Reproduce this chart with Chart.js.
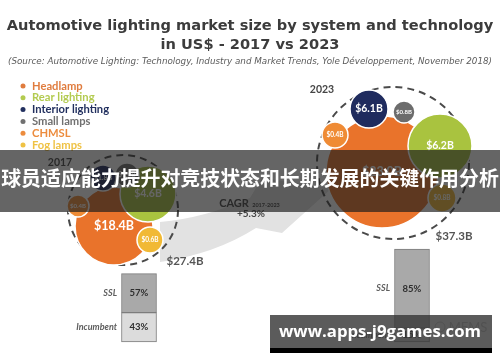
<!DOCTYPE html>
<html>
<head>
<meta charset="utf-8">
<script src="https://cdn.jsdelivr.net/npm/chart.js@4.4.1/dist/chart.umd.min.js"></script>
<style>
  html, body { margin: 0; padding: 0; background: #fff; }
  #wrap { position: relative; width: 500px; height: 362px; }
  canvas { display: block; }
</style>
</head>
<body>
<div id="wrap"><canvas id="myChart" width="500" height="362"></canvas></div>
<script>
// ---- data ----
const years = ["2017", "2023"];
const systems = ["Headlamp", "Rear lighting", "Interior lighting", "Small lamps", "CHMSL", "Fog lamps"];
const headlamp = [18.4, 23.0];
const rearLighting = [4.6, 6.2];
const interiorLighting = [1.8, 6.1];
const smallLamps = [1.6, 0.8];
const chmsl = [0.4, 0.4];
const fogLamps = [0.6, 0.8];
const marketTotal = [27.4, 37.3];
const technologies = ["SSL", "Incumbent"];
const sslShare = [57, 85];
const incumbentShare = [43, 15];
const cagrText = "+5.3%";

// ---- look & layout ----
const systemColors = ["#e9732b", "#a9c33f", "#1f2b5e", "#6c6c6c", "#ef8b35", "#f1b935"];
const legendColors = ["#e07c3e", "#b3cb50", "#22305f", "#707070", "#ec8c3e", "#efc244"];
// where each bubble sits in the infographic (chart units, x 0-500 / y 0-362) and its radius
const bubbleSpots = [
  [[114, 226, 39], [382, 172, 56]],
  [[148, 194, 28], [440, 146, 32]],
  [[103, 178, 13], [369, 109, 19]],
  [[127, 175, 12], [404, 112, 11]],
  [[78, 206, 11], [335, 135, 13]],
  [[150, 240, 13], [442, 198, 14]],
];
const clusterRings = [[123, 210, 55], [393, 163, 76]];

const seriesValues = [headlamp, rearLighting, interiorLighting, smallLamps, chmsl, fogLamps];
const sans = "Lato, 'DejaVu Sans', sans-serif";

// bar axes: 2017 -> px 121.5, 2023 -> px 394.5 ; 0 $B -> px 342, 37.3 $B -> px 249
const xbK = (394.5 - 121.5) / 6;
const xbMin = 2017 - 121.5 / xbK;
const ybK = 93 / 37.3;
const ybMin = -20 / ybK;

const bubbleSets = systems.map((name, i) => ({
  type: "bubble",
  label: name,
  data: years.map((y, j) => ({
    x: bubbleSpots[i][j][0],
    y: bubbleSpots[i][j][1],
    r: bubbleSpots[i][j][2],
    v: seriesValues[i][j],
  })),
  backgroundColor: systemColors[i],
  borderColor: "#ffffff",
  borderWidth: 1.5,
  hoverRadius: 0,
  order: i === 0 ? 10 : i === 1 ? 5 : 1,
}));

const shares = [sslShare, incumbentShare];
const barColors = ["#a9a9a9", "#dcdcdc"];
const barSets = [1, 0].map((t) => ({
  type: "bar",
  label: technologies[t],
  data: years.map((y, j) => ({ x: +y, y: (marketTotal[j] * shares[t][j]) / 100 })),
  xAxisID: "xb",
  yAxisID: "yb",
  stack: "tech",
  backgroundColor: barColors[t],
  borderColor: "#7d7d7d",
  borderWidth: 1,
  borderSkipped: false,
  barThickness: 35,
  order: 20,
}));

const fitText = (ctx, text, x, y, width, font) => {
  ctx.font = font.replace("SIZE", "20px");
  const size = (20 * width) / ctx.measureText(text).width;
  ctx.font = font.replace("SIZE", size + "px");
  ctx.fillText(text, x, y);
};

const decorPlugin = {
  id: "decor",
  beforeDatasetsDraw(chart) {
    const { ctx } = chart;
    const sx = chart.scales.x, sy = chart.scales.y;
    const P = (x, y) => [sx.getPixelForValue(x), sy.getPixelForValue(y)];
    ctx.save();
    // growth arrow
    ctx.fillStyle = "#e2e2e2";
    ctx.beginPath();
    ctx.moveTo(...P(160, 262));
    ctx.quadraticCurveTo(...P(215, 254), ...P(256, 228));
    ctx.lineTo(...P(282, 233));
    ctx.lineTo(...P(332, 188));
    ctx.lineTo(...P(262, 178));
    ctx.lineTo(...P(250, 198));
    ctx.quadraticCurveTo(...P(205, 218), ...P(160, 222));
    ctx.closePath();
    ctx.fill();
    // dashed rings around each year
    ctx.strokeStyle = "#4a4a4a";
    ctx.lineWidth = 2;
    ctx.setLineDash([7, 5]);
    clusterRings.forEach(([cx, cy, r]) => {
      ctx.beginPath();
      ctx.arc(...P(cx, cy), r, 0, Math.PI * 2);
      ctx.stroke();
    });
    ctx.restore();
  },
  afterDatasetsDraw(chart) {
    const { ctx } = chart;
    const sx = chart.scales.x, sy = chart.scales.y;
    const P = (x, y) => [sx.getPixelForValue(x), sy.getPixelForValue(y)];
    ctx.save();
    ctx.textAlign = "center";
    ctx.textBaseline = "middle";

    // bubble value labels
    chart.data.datasets.forEach((ds, di) => {
      if (ds.type !== "bubble") return;
      chart.getDatasetMeta(di).data.forEach((el, j) => {
        const v = ds.data[j].v;
        const base = v >= 10 ? 12.5 : v >= 1 ? 10.5 : 6.5;
        const size = Math.min(base, ds.data[j].r * 0.55);
        ctx.fillStyle = "#ffffff";
        ctx.font = `bold ${size}px ${sans}`;
        ctx.fillText(`$${v.toFixed(1)}B`, el.x, el.y);
      });
    });

    // bar share labels
    chart.data.datasets.forEach((ds, di) => {
      if (ds.type !== "bar") return;
      const t = technologies.indexOf(ds.label);
      chart.getDatasetMeta(di).data.forEach((el, j) => {
        const cy = (el.y + el.base) / 2;
        ctx.textAlign = "center";
        ctx.fillStyle = "#2e2e2e";
        ctx.font = `bold 9.5px ${sans}`;
        ctx.fillText(`${shares[t][j]}%`, el.x, cy);
        ctx.textAlign = "right";
        ctx.fillStyle = "#5e5e5e";
        ctx.font = `italic bold 9px ${sans}`;
        ctx.fillText(technologies[t], el.x - 22, cy);
      });
    });

    // titles
    ctx.textAlign = "center";
    ctx.fillStyle = "#3c3c3c";
    fitText(ctx, "Automotive lighting market size by system and technology", 250, 26, 487, "bold SIZE 'DejaVu Sans', sans-serif");
    ctx.fillText("in US$ - 2017 vs 2023", 250, 45);
    ctx.fillStyle = "#5a5a5a";
    fitText(ctx, "(Source: Automotive Lighting: Technology, Industry and Market Trends, Yole Développement, November 2018)", 250, 62, 484, "italic SIZE 'DejaVu Sans', sans-serif");

    // legend
    ctx.textAlign = "left";
    ctx.font = `bold 11.2px ${sans}`;
    systems.forEach((name, i) => {
      const y = 86 + i * 11.8;
      ctx.fillStyle = legendColors[i];
      ctx.beginPath();
      ctx.arc(23, y, 2.5, 0, Math.PI * 2);
      ctx.fill();
      ctx.fillText(name, 32, y);
    });

    // years and totals
    ctx.textAlign = "center";
    ctx.fillStyle = "#454545";
    ctx.font = `bold 10.5px ${sans}`;
    ctx.fillText(years[0], ...P(60, 163));
    ctx.fillText(years[1], ...P(322, 90));
    ctx.fillStyle = "#555555";
    ctx.font = `bold 11.5px ${sans}`;
    ctx.fillText(`$${marketTotal[0].toFixed(1)}B`, ...P(185, 261));
    ctx.fillText(`$${marketTotal[1].toFixed(1)}B`, ...P(454, 236));

    // CAGR
    ctx.fillStyle = "#444444";
    ctx.font = `bold 11px ${sans}`;
    ctx.fillText("CAGR", ...P(234, 203));
    ctx.font = `bold 5.5px ${sans}`;
    ctx.fillText(`${years[0]}-${years[1]}`, ...P(266, 205));
    ctx.font = `bold 10px ${sans}`;
    ctx.fillText(cagrText, ...P(251, 214));

    // faint logo
    ctx.fillStyle = "#c4c4c4";
    ctx.font = `13px ${sans}`;
    ctx.fillText("MEMS", 468, 328);
    ctx.strokeStyle = "#c8c8c8";
    ctx.lineWidth = 1;
    ctx.beginPath();
    ctx.arc(440, 327, 5, 0, Math.PI * 2);
    ctx.stroke();

    // overlay banner
    ctx.fillStyle = "rgba(28, 28, 28, 0.68)";
    ctx.fillRect(0, 150, 500, 62);
    ctx.fillStyle = "#ffffff";
    fitText(ctx, "球员适应能力提升对竞技状态和长期发展的关键作用分析", 250, 178, 498, "bold SIZE 'Noto Sans CJK SC', sans-serif");

    // overlay watermark
    ctx.fillStyle = "rgba(55, 55, 55, 0.82)";
    ctx.fillRect(270, 315, 222, 33);
    ctx.fillStyle = "#000000";
    ctx.fillRect(270, 348, 222, 5);
    ctx.fillStyle = "#ffffff";
    fitText(ctx, "www.apps-j9games.com", 380, 332, 202, "bold SIZE 'Open Sans', sans-serif");
    ctx.restore();
  },
};

const chartCtx = document.getElementById("myChart").getContext("2d");
window.chart = new Chart(chartCtx, {
  type: "bubble",
  data: { datasets: [...bubbleSets, ...barSets] },
  options: {
    responsive: false,
    animation: false,
    events: [],
    clip: false,
    layout: { padding: 0, autoPadding: false },
    plugins: { legend: { display: false }, tooltip: { enabled: false } },
    scales: {
      x: { type: "linear", display: false, min: 0, max: 500, offset: false },
      y: { type: "linear", display: false, min: 0, max: 362, reverse: true, offset: false },
      xb: { type: "linear", display: false, min: xbMin, max: xbMin + 500 / xbK, offset: false, stacked: true },
      yb: { type: "linear", display: false, min: ybMin, max: ybMin + 362 / ybK, stacked: true },
    },
  },
  plugins: [decorPlugin],
});
</script>
</body>
</html>
